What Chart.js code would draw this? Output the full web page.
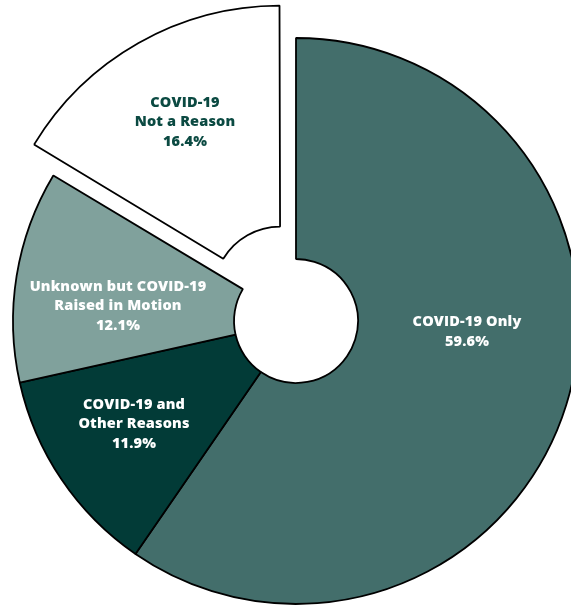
<!DOCTYPE html>
<html>
<head>
<meta charset="utf-8">
<script src="https://cdn.jsdelivr.net/npm/chart.js@4.4.1/dist/chart.umd.min.js"></script>
<style>
  html, body { margin: 0; padding: 0; background: #fff; }
  #wrap { width: 571px; height: 605px; position: relative; }
</style>
</head>
<body>
<div id="wrap"><canvas id="pie"></canvas></div>
<script>
const categories = [
  ["COVID-19 Only"],
  ["COVID-19 and", "Other Reasons"],
  ["Unknown but COVID-19", "Raised in Motion"],
  ["COVID-19", "Not a Reason"]
];
const shares = [59.6, 11.9, 12.1, 16.4];
const fills = ["#436e6b", "#023b37", "#80a19c", "#ffffff"];
const textColors = ["#ffffff", "#ffffff", "#ffffff", "#0b4a42"];
// Chart.js scales arc offset down internally, so this pulls the slice ~37px
const pulled = [0, 0, 0, 128];

// label anchor relative to each arc's own centre (after any offset)
const labelShift = [[171, 11], [-162, 103], [-178, -15], [-93, -167]];

// same translation ArcElement.draw applies for an offset slice
function arcShift(arc) {
  const off = (arc.options.offset || 0) / 4;
  const circ = arc.endAngle - arc.startAngle;
  const fix = 1 - Math.sin(Math.min(Math.PI, circ));
  const mid = (arc.startAngle + arc.endAngle) / 2;
  const d = off + off * fix;
  return [Math.cos(mid) * d, Math.sin(mid) * d];
}

const sliceLabels = {
  id: 'sliceLabels',
  afterDatasetsDraw(chart) {
    const ctx = chart.ctx;
    const arcs = chart.getDatasetMeta(0).data;
    ctx.save();
    ctx.font = "800 14.5px 'Open Sans'";
    ctx.letterSpacing = '0.15px';
    ctx.textAlign = 'center';
    ctx.textBaseline = 'middle';
    arcs.forEach((arc, i) => {
      const [dx, dy] = arcShift(arc);
      const lines = categories[i].concat([shares[i].toFixed(1) + "%"]);
      const lh = 19.5;
      const x = arc.x + dx + labelShift[i][0];
      const y0 = arc.y + dy + labelShift[i][1] - (lines.length - 1) * lh / 2;
      ctx.fillStyle = textColors[i];
      lines.forEach((t, k) => ctx.fillText(t, x, y0 + k * lh));
    });
    ctx.restore();
  }
};

new Chart(document.getElementById('pie'), {
  type: 'doughnut',
  data: {
    labels: categories.map(c => c.join(' ')),
    datasets: [{
      data: shares,
      backgroundColor: fills,
      borderColor: '#000000',
      borderWidth: 1.8,
      offset: pulled,
      hoverOffset: 0
    }]
  },
  options: {
    responsive: true,
    maintainAspectRatio: false,
    animation: false,
    radius: 283,
    cutout: '21.9%',
    layout: { padding: { left: 21, right: 0, top: 37, bottom: 0 } },
    plugins: {
      legend: { display: false },
      tooltip: { enabled: false }
    }
  },
  plugins: [sliceLabels]
});
</script>
</body>
</html>
